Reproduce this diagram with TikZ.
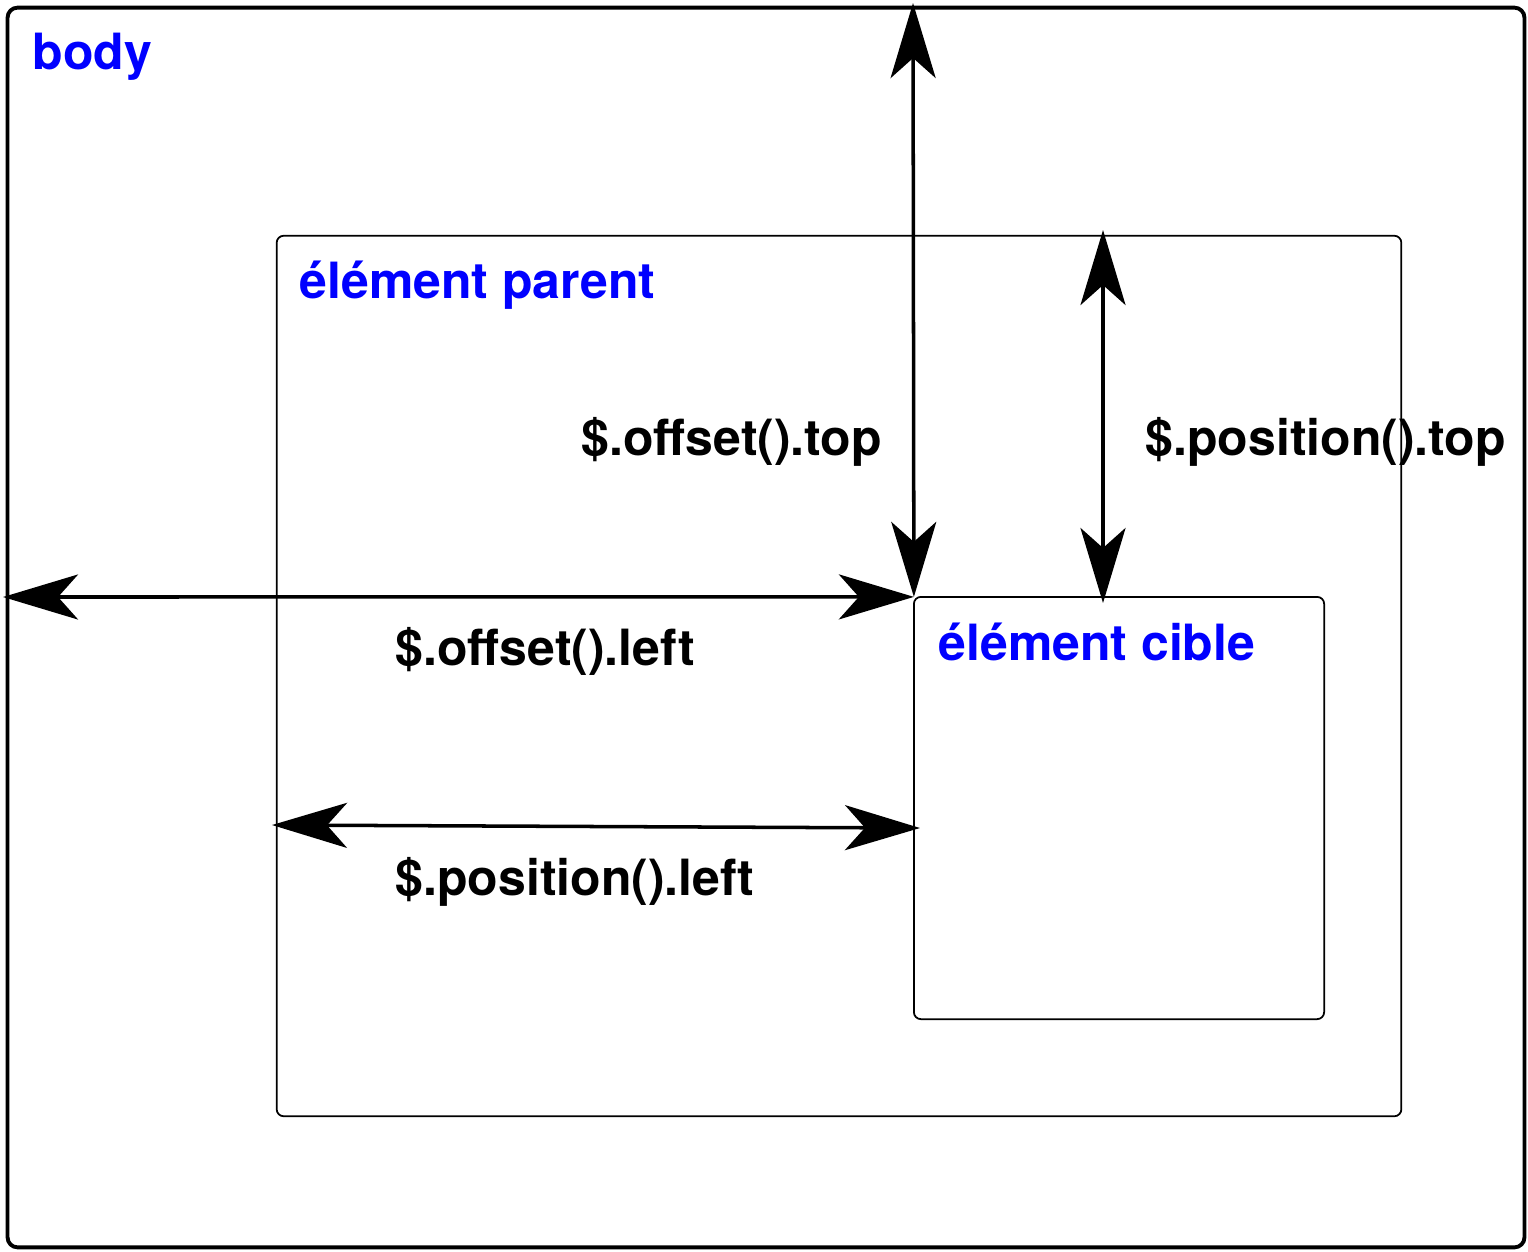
\documentclass[tikz,border=0pt]{standalone}
\usepackage{fontspec}
\setmainfont{TeX Gyre Heros}
\usetikzlibrary{arrows.meta}

\definecolor{boxblue}{RGB}{0,0,255}

\begin{document}
\begin{tikzpicture}[x=0.01cm, y=-0.01cm,
                    box node/.style={draw, rectangle, inner sep=0pt, outer sep=0pt},
                    title node/.style={anchor=base west, inner sep=0pt, text=boxblue, font=\fontsize{14.2}{17}\selectfont\bfseries},
                    dim node/.style={anchor=base west, inner sep=0pt, font=\fontsize{14.2}{17}\selectfont\bfseries},
                    dim arrow/.style={line width=1pt, {Stealth[length=0.75cm, width=0.45cm, inset=0.2cm]}-{Stealth[length=0.75cm, width=0.45cm, inset=0.2cm]}}]

  \useasboundingbox (0,0) rectangle (1528,1251);

  % boxes
  \node[box node, line width=1.1pt, rounded corners=0.1cm, minimum width=15.16cm, minimum height=12.39cm] (body) at (766,627.5) {};
  \node[box node, line width=0.5pt, rounded corners=0.07cm, minimum width=11.24cm, minimum height=8.80cm] (parent) at (839,676) {};
  \node[box node, line width=0.5pt, rounded corners=0.07cm, minimum width=4.10cm, minimum height=4.22cm] (target) at (1119,808) {};

  \node[title node] (body label) at (32,69) {body};
  \node[title node] (parent label) at (299,298) {élément parent};
  \node[title node] (target label) at (938,660) {élément cible};

  % free ends
  \coordinate (page top) at (913,3);
  \coordinate (page left) at (3,597);
  \coordinate (parent top) at (1103,230);
  \coordinate (target top) at (1103,603);
  \coordinate (parent left) at (272,825);
  \coordinate (target left) at (920,828);

  \draw[dim arrow] (page top) -- (target.north west);
  \draw[dim arrow] (page left) -- (target.north west);
  \draw[dim arrow] (parent top) -- (target top);
  \draw[dim arrow] (parent left) -- (target left);

  \node[dim node] (offset top) at (581,455) {\$.offset().top};
  \node[dim node] (position top) at (1145,455) {\$.position().top};
  \node[dim node] (offset left) at (395,665) {\$.offset().left};
  \node[dim node] (position left) at (395,895) {\$.position().left};

\end{tikzpicture}
\end{document}
